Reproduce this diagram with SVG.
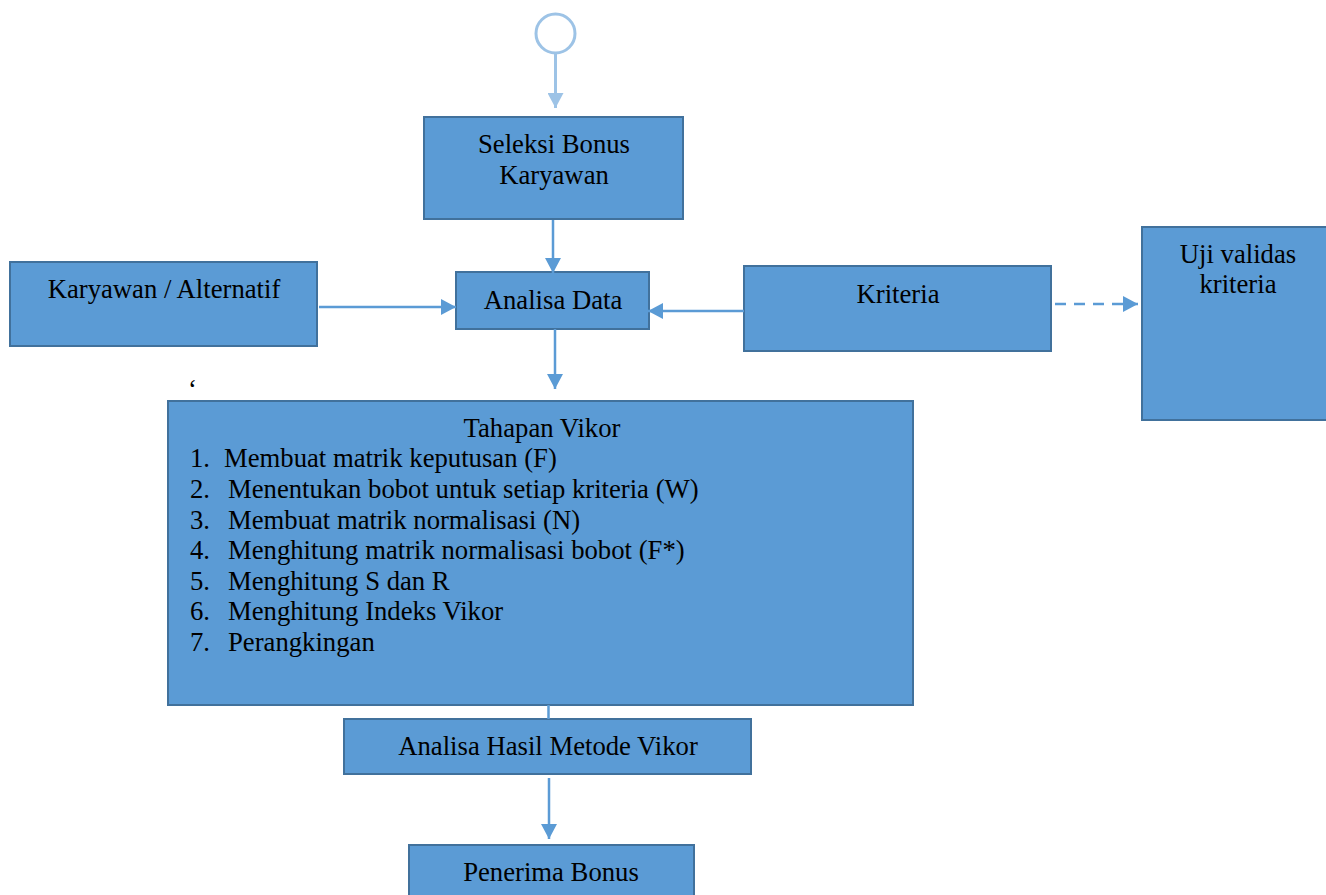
<svg xmlns="http://www.w3.org/2000/svg" width="1326" height="895" viewBox="0 0 1326 895">
<style>
.box{fill:#5B9BD5;stroke:#41719C;stroke-width:2}
.t{font-family:"Liberation Serif","Times New Roman",serif;font-size:26.7px;fill:#000}
.c{text-anchor:middle}
.conn{stroke:#5B9BD5;stroke-width:2.5;fill:none}
</style>
<defs>
<marker id="ah" markerUnits="userSpaceOnUse" markerWidth="15" markerHeight="16" refX="15" refY="8" orient="auto">
<path d="M0,0 L15,8 L0,16 Z" fill="#5B9BD5"/>
</marker>
<marker id="ahl" markerUnits="userSpaceOnUse" markerWidth="15" markerHeight="16" refX="15" refY="8" orient="auto">
<path d="M0,0 L15,8 L0,16 Z" fill="#9DC3E6"/>
</marker>
</defs>
<rect width="1326" height="895" fill="#fff"/>
<g id="start">
<circle cx="555.5" cy="33.5" r="19.5" fill="#fff" stroke="#9DC3E6" stroke-width="3"/>
</g>
<g id="seleksi">
<rect class="box" x="424" y="117" width="259" height="102"/>
<text class="t c" x="554" y="153">Seleksi Bonus</text>
<text class="t c" x="554" y="184">Karyawan</text>
</g>
<g id="karyawan">
<rect class="box" x="10" y="262" width="307" height="84"/>
<text class="t c" x="164" y="298">Karyawan / Alternatif</text>
</g>
<g id="analisa">
<rect class="box" x="456" y="272" width="193" height="57"/>
<text class="t c" x="553" y="309">Analisa Data</text>
</g>
<g id="kriteria">
<rect class="box" x="744" y="266" width="307" height="85"/>
<text class="t c" x="898" y="303">Kriteria</text>
</g>
<g id="uji">
<rect class="box" x="1142" y="227" width="190" height="193"/>
<text class="t c" x="1238" y="263">Uji validas</text>
<text class="t c" x="1238" y="293">kriteria</text>
</g>
<text class="t" x="188" y="398">‘</text>
<g id="tahapan">
<rect class="box" x="168" y="401" width="745" height="304"/>
<text class="t c" x="542" y="437">Tahapan Vikor</text>
<text class="t" x="190" y="467">1.</text><text class="t" x="224" y="467">Membuat matrik keputusan (F)</text>
<text class="t" x="190" y="498">2.</text><text class="t" x="228" y="498">Menentukan bobot untuk setiap kriteria (W)</text>
<text class="t" x="190" y="529">3.</text><text class="t" x="228" y="529">Membuat matrik normalisasi (N)</text>
<text class="t" x="190" y="559">4.</text><text class="t" x="228" y="559">Menghitung matrik normalisasi bobot (F*)</text>
<text class="t" x="190" y="590">5.</text><text class="t" x="228" y="590">Menghitung S dan R</text>
<text class="t" x="190" y="620">6.</text><text class="t" x="228" y="620">Menghitung Indeks Vikor</text>
<text class="t" x="190" y="651">7.</text><text class="t" x="228" y="651">Perangkingan</text>
</g>
<g id="hasil">
<rect class="box" x="344" y="719" width="407" height="55"/>
<text class="t c" x="548" y="755">Analisa Hasil Metode Vikor</text>
</g>
<g id="penerima">
<rect class="box" x="409" y="845" width="285" height="60"/>
<text class="t c" x="551" y="881">Penerima Bonus</text>
</g>
<g id="connectors">
<line x1="555.5" y1="54" x2="555.5" y2="108" stroke="#9DC3E6" stroke-width="3" marker-end="url(#ahl)"/>
<line class="conn" x1="553" y1="220" x2="553" y2="273" marker-end="url(#ah)"/>
<line class="conn" x1="319" y1="307" x2="456" y2="307" marker-end="url(#ah)"/>
<line class="conn" x1="744" y1="311" x2="648" y2="311" marker-end="url(#ah)"/>
<line class="conn" x1="555" y1="329" x2="555" y2="389" marker-end="url(#ah)"/>
<line class="conn" x1="1055" y1="304" x2="1138" y2="304" stroke-dasharray="11 8" marker-end="url(#ah)"/>
<line class="conn" x1="548.5" y1="705" x2="548.5" y2="719"/>
<line class="conn" x1="549" y1="778" x2="549" y2="839" marker-end="url(#ah)"/>
</g>
</svg>
